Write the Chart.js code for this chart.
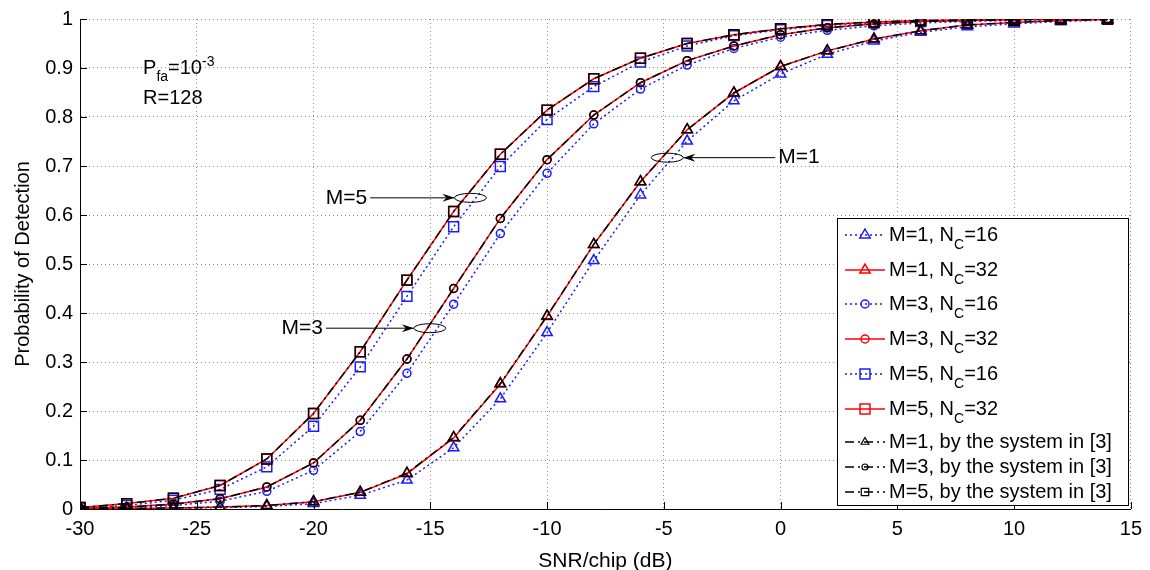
<!DOCTYPE html>
<html>
<head>
<meta charset="utf-8">
<script src="https://cdn.jsdelivr.net/npm/chart.js@4/dist/chart.umd.min.js"></script>
<style>
  html, body { margin: 0; padding: 0; background: #fff; }
  #wrap { width: 1150px; height: 570px; }
</style>
</head>
<body>
<div id="wrap"><canvas id="pd" width="1150" height="570"></canvas></div>
<script>
// ─── DATA ───────────────────────────────────────────────────────
const snr = [-30, -28, -26, -24, -22, -20, -18, -16, -14, -12, -10, -8, -6, -4, -2, 0, 2, 4, 6, 8, 10, 12, 14];

const m1Nc16 = [0.001, 0.001, 0.001, 0.003, 0.005, 0.011, 0.028, 0.059, 0.125, 0.225, 0.36, 0.507, 0.641, 0.751, 0.833, 0.888, 0.928, 0.955, 0.973, 0.984, 0.99, 0.995, 0.998];
const m1Nc32 = [0.001, 0.001, 0.002, 0.004, 0.007, 0.015, 0.034, 0.072, 0.145, 0.255, 0.393, 0.54, 0.668, 0.774, 0.849, 0.903, 0.935, 0.959, 0.976, 0.988, 0.993, 0.997, 0.999];
const m3Nc16 = [0.001, 0.003, 0.007, 0.016, 0.036, 0.079, 0.158, 0.277, 0.418, 0.562, 0.685, 0.786, 0.857, 0.906, 0.94, 0.963, 0.977, 0.986, 0.992, 0.995, 0.997, 0.999, 1.0];
const m3Nc32 = [0.002, 0.004, 0.01, 0.021, 0.045, 0.094, 0.181, 0.306, 0.45, 0.593, 0.713, 0.804, 0.87, 0.915, 0.945, 0.968, 0.982, 0.99, 0.995, 0.997, 0.999, 1.0, 1.0];
const m5Nc16 = [0.002, 0.007, 0.018, 0.04, 0.086, 0.169, 0.29, 0.434, 0.576, 0.699, 0.795, 0.862, 0.912, 0.945, 0.966, 0.978, 0.987, 0.992, 0.995, 0.997, 0.998, 0.999, 1.0];
const m5Nc32 = [0.003, 0.011, 0.022, 0.048, 0.102, 0.195, 0.321, 0.467, 0.607, 0.724, 0.814, 0.878, 0.92, 0.95, 0.968, 0.98, 0.989, 0.994, 0.997, 0.998, 0.999, 1.0, 1.0];
// system in [3] -- sits on top of the Nc=32 curves
const m1Ref = [0.001, 0.001, 0.002, 0.004, 0.007, 0.015, 0.034, 0.073, 0.146, 0.256, 0.394, 0.54, 0.668, 0.774, 0.849, 0.903, 0.935, 0.959, 0.976, 0.988, 0.993, 0.997, 0.999];
const m3Ref = [0.002, 0.004, 0.01, 0.021, 0.045, 0.094, 0.181, 0.306, 0.45, 0.593, 0.713, 0.804, 0.87, 0.915, 0.945, 0.968, 0.982, 0.99, 0.995, 0.997, 0.999, 1.0, 1.0];
const m5Ref = [0.003, 0.011, 0.022, 0.048, 0.102, 0.195, 0.321, 0.467, 0.607, 0.724, 0.814, 0.878, 0.92, 0.95, 0.968, 0.98, 0.989, 0.994, 0.997, 0.998, 0.999, 1.0, 1.0];

const xTicks = [-30, -25, -20, -15, -10, -5, 0, 5, 10, 15];
const yTicks = [0, 0.1, 0.2, 0.3, 0.4, 0.5, 0.6, 0.7, 0.8, 0.9, 1];

const FONT = "'Liberation Sans', Arial, sans-serif";
const BLUE = "#1a1aff";
const RED = "#ff0000";

// ─── SERIES STYLES ──────────────────────────────────────────────
const series = [
  { label: "M=1, N", sub: "C", tail: "=16", data: m1Nc16, color: BLUE, dash: [2, 3], marker: "triangle", r: 6, order: 2 },
  { label: "M=1, N", sub: "C", tail: "=32", data: m1Nc32, color: RED, dash: [], marker: "triangle", r: 6, order: 1 },
  { label: "M=3, N", sub: "C", tail: "=16", data: m3Nc16, color: BLUE, dash: [2, 3], marker: "circle", r: 4, order: 2 },
  { label: "M=3, N", sub: "C", tail: "=32", data: m3Nc32, color: RED, dash: [], marker: "circle", r: 4, order: 1 },
  { label: "M=5, N", sub: "C", tail: "=16", data: m5Nc16, color: BLUE, dash: [2, 3], marker: "rect", r: 7, order: 2 },
  { label: "M=5, N", sub: "C", tail: "=32", data: m5Nc32, color: RED, dash: [], marker: "rect", r: 7, order: 1 },
  { label: "M=1, by the system in [3]", data: m1Ref, color: "#000", dash: [9, 4, 2, 4], marker: "triangle", r: 6, order: 0, small: true },
  { label: "M=3, by the system in [3]", data: m3Ref, color: "#000", dash: [9, 4, 2, 4], marker: "circle", r: 4, order: 0, small: true },
  { label: "M=5, by the system in [3]", data: m5Ref, color: "#000", dash: [9, 4, 2, 4], marker: "rect", r: 7, order: 0, small: true },
];

// ─── NOTES (data coords) ────────────────────────────────────────
const notes = [
  { text: "M=5", tx: -17.7, ty: 0.635, ex: -13.28, ey: 0.635, side: "left" },
  { text: "M=3", tx: -19.6, ty: 0.369, ex: -15.02, ey: 0.369, side: "left" },
  { text: "M=1", tx: -0.1, ty: 0.717, ex: -4.85, ey: 0.717, side: "right" },
];

function marker(ctx, style, cx, cy, r) {
  ctx.beginPath();
  if (style === "triangle") {
    ctx.moveTo(cx, cy - r);
    ctx.lineTo(cx + r * 0.866, cy + r * 0.5);
    ctx.lineTo(cx - r * 0.866, cy + r * 0.5);
    ctx.closePath();
  } else if (style === "rect") {
    const s = r * Math.SQRT1_2;
    ctx.rect(cx - s, cy - s, 2 * s, 2 * s);
  } else {
    ctx.arc(cx, cy, r, 0, Math.PI * 2);
  }
  ctx.stroke();
}

// ─── EXTRAS PLUGIN ──────────────────────────────────────────────
const extras = {
  id: "extras",
  afterDraw(chart) {
    const { ctx, chartArea: ca } = chart;
    const x = chart.scales.x, y = chart.scales.y;
    ctx.save();

    // inner tick marks
    ctx.strokeStyle = "#000";
    ctx.lineWidth = 1;
    ctx.setLineDash([]);
    xTicks.forEach((v) => {
      const px = Math.round(x.getPixelForValue(v)) + 0.5;
      ctx.beginPath(); ctx.moveTo(px, ca.bottom); ctx.lineTo(px, ca.bottom - 7); ctx.stroke();
    });
    yTicks.forEach((v) => {
      const py = Math.round(y.getPixelForValue(v)) + 0.5;
      ctx.beginPath(); ctx.moveTo(ca.left, py); ctx.lineTo(ca.left + 7, py); ctx.stroke();
    });

    // P_fa / R text
    ctx.fillStyle = "#000";
    ctx.textBaseline = "middle";
    ctx.textAlign = "left";
    let px = x.getPixelForValue(-27.3);
    let py = y.getPixelForValue(0.898);
    ctx.font = "20px " + FONT;
    ctx.fillText("P", px, py);
    px += ctx.measureText("P").width;
    ctx.font = "14px " + FONT;
    ctx.fillText("fa", px, py + 8);
    px += ctx.measureText("fa").width;
    ctx.font = "20px " + FONT;
    ctx.fillText("=10", px, py);
    px += ctx.measureText("=10").width;
    ctx.font = "14px " + FONT;
    ctx.fillText("-3", px, py - 7);
    ctx.font = "20px " + FONT;
    ctx.fillText("R=128", x.getPixelForValue(-27.3), y.getPixelForValue(0.837));

    // M=.. arrows with ellipses
    notes.forEach((n) => {
      const ex = x.getPixelForValue(n.ex), ey = y.getPixelForValue(n.ey);
      const tx = x.getPixelForValue(n.tx);
      const rx = 16, ry = 4.5;
      ctx.strokeStyle = "#000";
      ctx.lineWidth = 1;
      ctx.beginPath();
      ctx.ellipse(ex, ey, rx, ry, 0, 0, Math.PI * 2);
      ctx.stroke();
      const tip = n.side === "left" ? ex - rx : ex + rx;
      const start = n.side === "left" ? tx + 3 : tx - 3;
      ctx.beginPath(); ctx.moveTo(start, ey); ctx.lineTo(tip, ey); ctx.stroke();
      const d = n.side === "left" ? 1 : -1;
      ctx.beginPath();
      ctx.moveTo(tip, ey);
      ctx.lineTo(tip - d * 12, ey - 4);
      ctx.lineTo(tip - d * 8, ey);
      ctx.lineTo(tip - d * 12, ey + 4);
      ctx.closePath();
      ctx.fillStyle = "#000";
      ctx.fill();
      ctx.font = "21px " + FONT;
      ctx.textAlign = n.side === "left" ? "right" : "left";
      ctx.fillText(n.text, tx, ey);
    });

    // legend
    const lx = 837, ly = 218, lw = 291, lh = 287;
    ctx.fillStyle = "#fff";
    ctx.fillRect(lx, ly, lw, lh);
    ctx.strokeStyle = "#000";
    ctx.lineWidth = 1;
    ctx.setLineDash([]);
    ctx.strokeRect(lx + 0.5, ly + 0.5, lw, lh);
    const rowsY = [235, 270, 304, 339, 374, 409, 442, 467, 492];
    series.forEach((s, i) => {
      const ry2 = rowsY[i];
      ctx.strokeStyle = s.color;
      ctx.lineWidth = 1.5;
      ctx.setLineDash(s.dash);
      ctx.beginPath(); ctx.moveTo(845, ry2); ctx.lineTo(885, ry2); ctx.stroke();
      ctx.setLineDash([]);
      ctx.lineWidth = s.small ? 1.2 : 1.5;
      marker(ctx, s.marker, 865, ry2, s.small ? s.r * 0.75 : s.r);
      ctx.fillStyle = "#000";
      ctx.textAlign = "left";
      ctx.font = "20px " + FONT;
      let tx = 889;
      ctx.fillText(s.label, tx, ry2);
      if (s.sub) {
        tx += ctx.measureText(s.label).width;
        ctx.font = "14px " + FONT;
        ctx.fillText(s.sub, tx, ry2 + 10);
        tx += ctx.measureText(s.sub).width;
        ctx.font = "20px " + FONT;
        ctx.fillText(s.tail, tx, ry2);
      }
    });
    ctx.restore();
  },
};

// ─── CHART ──────────────────────────────────────────────────────
new Chart(document.getElementById("pd"), {
  type: "line",
  data: {
    datasets: series.map((s) => ({
      label: s.label,
      data: snr.map((v, i) => ({ x: v, y: s.data[i] })),
      borderColor: s.color,
      borderWidth: 1.5,
      borderDash: s.dash,
      pointStyle: s.marker,
      pointRadius: s.r,
      pointBorderColor: s.color,
      pointBorderWidth: 1.5,
      pointBackgroundColor: "rgba(0,0,0,0)",
      tension: 0,
      fill: false,
      order: s.order,
    })),
  },
  options: {
    responsive: false,
    animation: false,
    devicePixelRatio: 1,
    layout: { padding: { left: 0, right: 13, top: 18, bottom: 0 } },
    plugins: { legend: { display: false }, tooltip: { enabled: false } },
    scales: {
      x: {
        type: "linear",
        min: -30,
        max: 15,
        afterFit: (sc) => { sc.height = 61; },
        afterBuildTicks: (sc) => { sc.ticks = xTicks.map((v) => ({ value: v })); },
        ticks: { color: "#000", font: { size: 20, family: FONT }, padding: 8 },
        grid: { color: "#8c8c8c", lineWidth: 1, drawTicks: false },
        border: { display: true, color: "#000", width: 1, dash: [1, 3] },
        title: { display: true, text: "SNR/chip (dB)", color: "#000", font: { size: 21, family: FONT, lineHeight: 0.8 }, padding: { top: 0, bottom: 0 } },
      },
      y: {
        type: "linear",
        min: 0,
        max: 1,
        afterFit: (sc) => { sc.width = 80; },
        afterBuildTicks: (sc) => { sc.ticks = yTicks.map((v) => ({ value: v })); },
        ticks: { color: "#000", font: { size: 20, family: FONT }, padding: 7, callback: (v) => String(+v.toFixed(1)) },
        grid: { color: "#8c8c8c", lineWidth: 1, drawTicks: false },
        border: { display: true, color: "#000", width: 1, dash: [1, 3] },
        title: { display: true, text: "Probability of Detection", color: "#000", font: { size: 20, family: FONT }, padding: { top: 11, bottom: 0 } },
      },
    },
  },
  plugins: [extras],
});
</script>
</body>
</html>
